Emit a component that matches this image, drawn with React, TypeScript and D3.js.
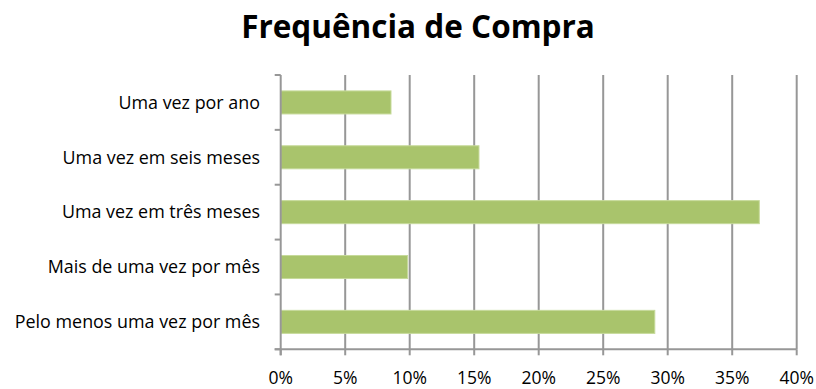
import React from "react";
import * as d3 from "d3";

const categories = [
  "Uma vez por ano",
  "Uma vez em seis meses",
  "Uma vez em três meses",
  "Mais de uma vez por mês",
  "Pelo menos uma vez por mês",
];
const values = [8.55, 15.37, 37.1, 9.84, 29.0];
const xTicks = [0, 5, 10, 15, 20, 25, 30, 35, 40];
const title = "Frequência de Compra";

export default function App() {
  const W = 816, H = 389;
  const left = 280.7, right = 796.7, top = 75, bottom = 349.3;
  const x = d3.scaleLinear().domain([0, 40]).range([left, right]);
  const y = d3.scaleBand<string>().domain(categories).range([top, bottom]).paddingInner(0.58).paddingOuter(0.29);
  const band = d3.scaleBand<string>().domain(categories).range([top, bottom]);
  const font = "'Open Sans', sans-serif";
  const grid = "#979797";
  return (
    <svg width={W} height={H} style={{ position: "absolute", left: 0, top: 0 }}>
      <rect width={W} height={H} fill="#fff" />
      <text x={418} y={38} textAnchor="middle" fontFamily={font} fontWeight="bold" fontSize={31.5} fill="#000">
        {title}
      </text>
      {xTicks.map((t) => (
        <g key={t}>
          {t > 0 && <line x1={x(t)} x2={x(t)} y1={top} y2={bottom} stroke={grid} strokeWidth={2} />}
          <line x1={x(t)} x2={x(t)} y1={bottom} y2={bottom + 6} stroke={grid} strokeWidth={2} />
          <text x={x(t)} y={384} textAnchor="middle" fontFamily={font} fontSize={17.5} fill="#000">
            {t}%
          </text>
        </g>
      ))}
      {categories.map((c, i) => (
        <g key={c}>
          <rect
            x={x(0)}
            y={y(c)!}
            width={x(values[i]) - x(0)}
            height={y.bandwidth()}
            fill="#A9C46C"
            stroke="#C6DA9A"
            strokeWidth={1}
          />
          <text
            x={260}
            y={band(c)! + band.bandwidth() / 2}
            dy="0.35em"
            textAnchor="end"
            fontFamily={font}
            fontSize={17.9}
            fill="#000"
          >
            {c}
          </text>
        </g>
      ))}
      {[...categories.map((c) => band(c)!), bottom].map((v, i) => (
        <line key={i} x1={left - 6} x2={left} y1={v} y2={v} stroke={grid} strokeWidth={2} />
      ))}
      <line x1={left} x2={left} y1={top} y2={bottom + 6} stroke={grid} strokeWidth={2} />
      <line x1={left - 6} x2={right} y1={bottom} y2={bottom} stroke={grid} strokeWidth={2} />
    </svg>
  );
}
